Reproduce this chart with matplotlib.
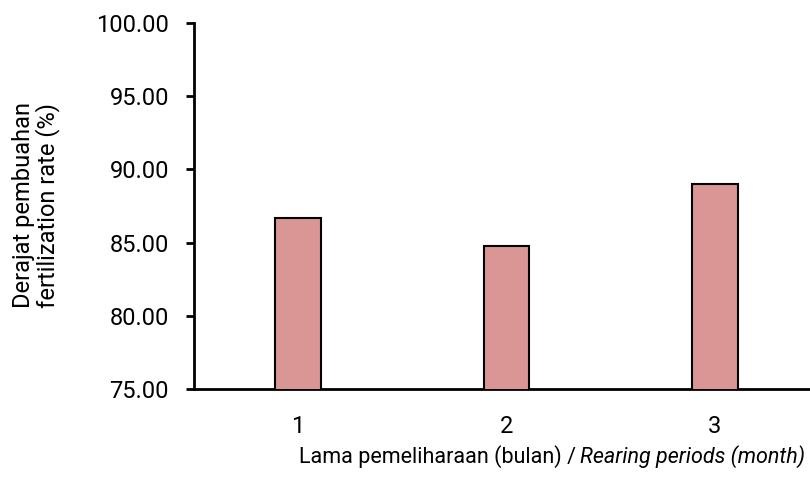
import matplotlib.pyplot as plt

periods = ["1", "2", "3"]
fert_rate = [86.66, 84.77, 88.98]
y_ticks = [75, 80, 85, 90, 95, 100]

plt.rcParams["font.family"] = ["Roboto", "DejaVu Sans"]

fig = plt.figure(figsize=(8.1, 4.93), dpi=100)
ax = fig.add_axes([194 / 810, 104 / 493, (819 - 194) / 810, 366 / 493])

x = list(range(len(periods)))
ax.bar(x, fert_rate, width=0.22, color="#D99694", edgecolor="black", linewidth=1.5, zorder=3)

ax.set_xlim(-0.5, 2.5)
ax.set_ylim(75, 100)
ax.set_yticks(y_ticks)
ax.set_yticklabels([f"{v:.2f}" for v in y_ticks], fontsize=17)
ax.set_xticks(x)
ax.set_xticklabels(periods, fontsize=17)
ax.tick_params(axis="x", length=0, pad=19)
ax.tick_params(axis="y", length=6, width=2, direction="out", pad=12)

for s in ["top", "right"]:
    ax.spines[s].set_visible(False)
for s in ["left", "bottom"]:
    ax.spines[s].set_linewidth(2)

fig.text(36 / 810, 1 - 205 / 493, "Derajat pembuahan\nfertilization rate (%)",
         rotation=90, ha="center", va="center", fontsize=17, linespacing=1.0)

fig.text(576 / 810, 1 - 457 / 493, "Lama pemeliharaan (bulan) /", ha="right", va="center", fontsize=15.5)
fig.text(580 / 810, 1 - 457 / 493, "Rearing periods (month)", ha="left", va="center",
         fontsize=15.5, style="italic")

fig.savefig("out.png", dpi=100)
